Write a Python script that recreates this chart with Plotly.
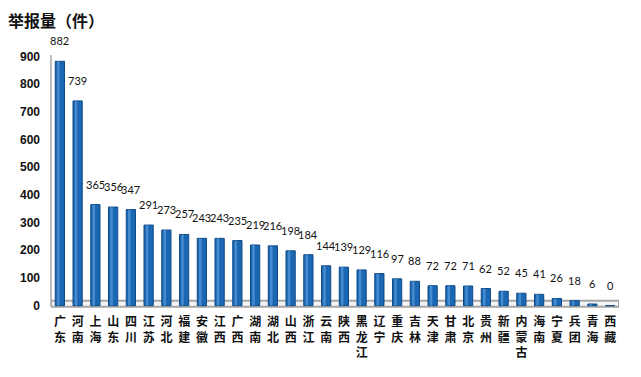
import plotly.graph_objects as go

provinces = ["广东", "河南", "上海", "山东", "四川", "江苏", "河北", "福建", "安徽", "江西",
             "广西", "湖南", "湖北", "山西", "浙江", "云南", "陕西", "黑龙江", "辽宁", "重庆",
             "吉林", "天津", "甘肃", "北京", "贵州", "新疆", "内蒙古", "海南", "宁夏", "兵团",
             "青海", "西藏"]
values = [882, 739, 365, 356, 347, 291, 273, 257, 243, 243,
          235, 219, 216, 198, 184, 144, 139, 129, 116, 97,
          88, 72, 72, 71, 62, 52, 45, 41, 26, 18,
          6, 0]
y_ticks = [0, 100, 200, 300, 400, 500, 600, 700, 800, 900]
title_text = "举报量（件）"

xs = list(range(len(provinces)))
tick_text = ["<br>".join(list(p)) for p in provinces]

CJK = "Noto Sans CJK SC"
NUM = "Lato, Liberation Sans, Arial"

fig = go.Figure()
fig.add_trace(go.Bar(
    x=xs, y=values, width=0.52,
    marker=dict(color="#1A67B4", line=dict(color="#0F4A87", width=1)),
    hoverinfo="x+y", showlegend=False,
))
# cylinder highlight
fig.add_trace(go.Bar(
    x=xs, y=values, width=0.14, offset=-0.16,
    marker=dict(color="rgba(110,170,230,0.55)", line=dict(width=0)),
    hoverinfo="skip", showlegend=False,
))

annotations = []
# value labels
for i, v in enumerate(values):
    annotations.append(dict(
        x=i, y=v, xref="x", yref="y", text=str(v), showarrow=False,
        xanchor="center", yanchor="bottom", yshift=12,
        font=dict(family=NUM, size=11, color="#111111"),
    ))

fig.update_layout(
    width=641, height=377,
    margin=dict(l=43, r=30, t=40, b=76),
    paper_bgcolor="white", plot_bgcolor="white",
    barmode="overlay",
    title=dict(text=title_text, x=0, xref="container", xanchor="left",
               y=1 - 13 / 377, yref="container", yanchor="middle",
               pad=dict(l=0, r=0, t=0, b=0),
               font=dict(family=CJK, size=16, color="#111111", weight="bold")),
    xaxis=dict(range=[-0.5, len(provinces) - 0.5], tickmode="array", tickvals=xs,
               ticktext=tick_text, showgrid=False, zeroline=False, showline=False,
               ticks="", ticklabelstandoff=4,
               tickfont=dict(family=CJK, size=12, color="#111111", weight="bold")),
    yaxis=dict(range=[-12, 930], tickmode="array", tickvals=y_ticks,
               ticktext=[str(t) for t in y_ticks],
               showgrid=False, zeroline=False, showline=False, ticks="",
               ticklabelstandoff=10,
               tickfont=dict(family="Liberation Sans, Arial", size=12, color="#111111", weight="bold")),
    shapes=[
        dict(type="rect", xref="x", yref="y", x0=-0.5, x1=len(provinces) - 0.5, y0=-4, y1=18,
             line=dict(color="#A6A6A6", width=2), fillcolor="#F4F4F4", layer="below"),
        dict(type="line", xref="paper", yref="y", x0=0, x1=0, y0=-4, y1=905,
             line=dict(color="#BFBFBF", width=2), layer="below"),
    ],
    annotations=annotations,
)

fig.write_html("out.html")
